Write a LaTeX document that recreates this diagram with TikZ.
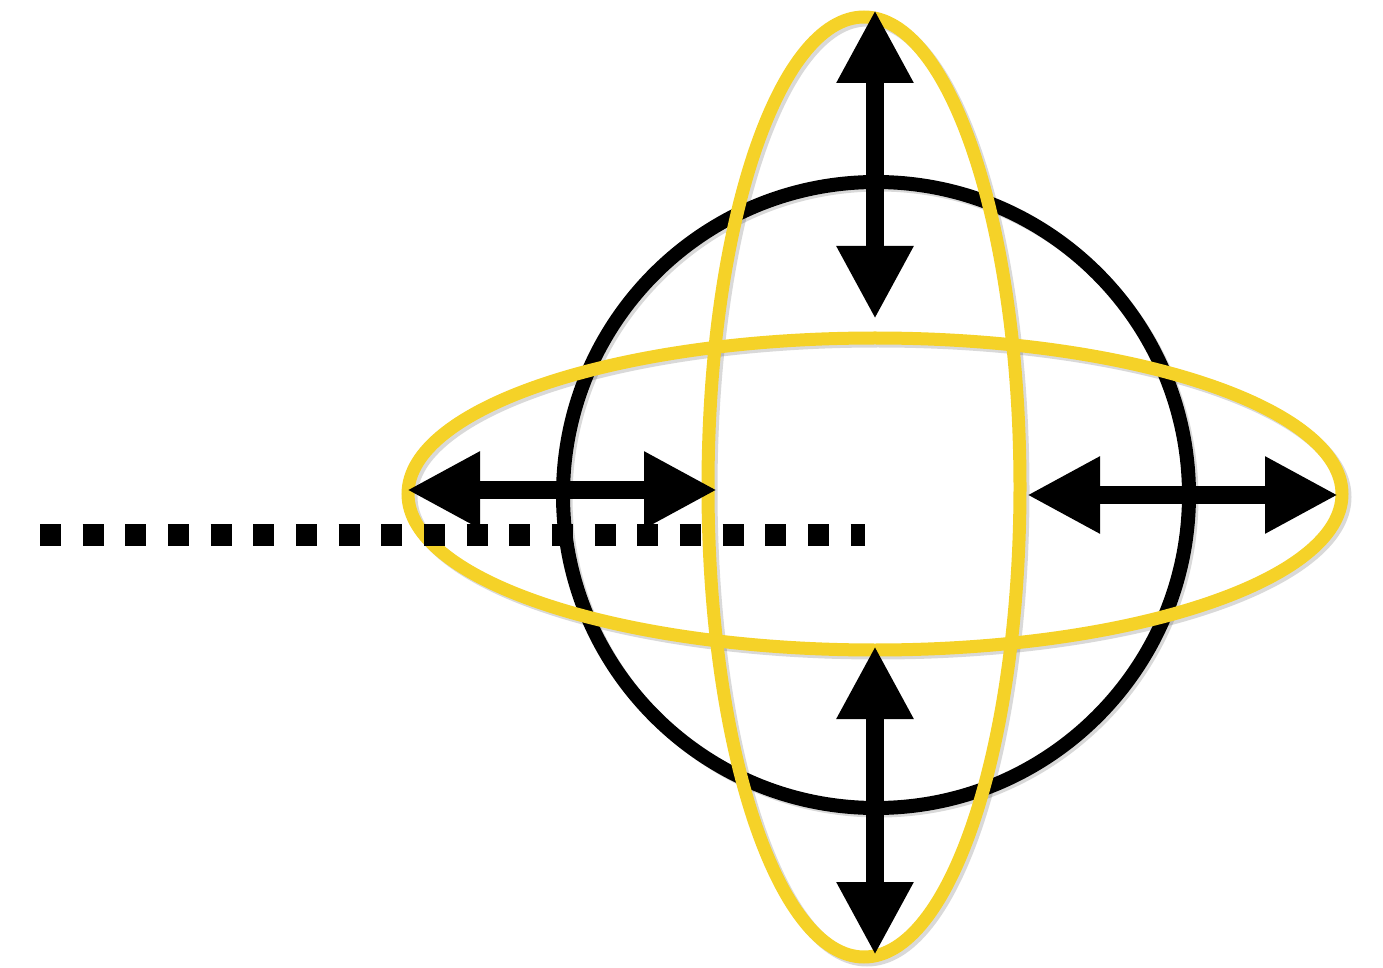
\documentclass[tikz,border=0pt]{standalone}
\usetikzlibrary{arrows.meta}
\definecolor{chalkyellow}{RGB}{245,210,40}
\begin{document}
\begin{tikzpicture}[x=0.5pt,y=-0.5pt,
  ring/.style={line width=6.5pt},
  shadowring/.style={line width=6.5pt, draw=black, opacity=0.15},
  dbl/.style={line width=9pt, {Triangle[width=36pt,length=36.5pt]}-{Triangle[width=36pt,length=36.5pt]}},
  dotline/.style={line width=11pt, dash pattern=on 10.5pt off 10.83pt}]
\useasboundingbox (0,0) rectangle (1383,968);
% shadows
\draw[shadowring] (879,498) circle[radius=313];
\draw[shadowring] (867,490) ellipse[x radius=156, y radius=470];
\draw[shadowring] (878,497) ellipse[x radius=467, y radius=156];
% black circle
\draw[ring, line width=7pt, black] (876,495) circle[radius=313];
% yellow ellipses
\draw[ring, chalkyellow] (864,487) ellipse[x radius=156, y radius=470];
\draw[ring, chalkyellow] (875,494) ellipse[x radius=467, y radius=156];
% dotted line
\coordinate (d1) at (40,535);
\coordinate (d2) at (865,535);
\draw[dotline] (d1) -- (d2);
% arrows
\coordinate (t1) at (875,10);
\coordinate (t2) at (875,319);
\coordinate (b1) at (875,646);
\coordinate (b2) at (875,955);
\coordinate (l1) at (407,490);
\coordinate (l2) at (717,490);
\coordinate (r1) at (1027,495);
\coordinate (r2) at (1338,495);
\draw[dbl] (t1) -- (t2);
\draw[dbl] (b1) -- (b2);
\draw[dbl] (l1) -- (l2);
\draw[dbl] (r1) -- (r2);
\end{tikzpicture}
\end{document}
